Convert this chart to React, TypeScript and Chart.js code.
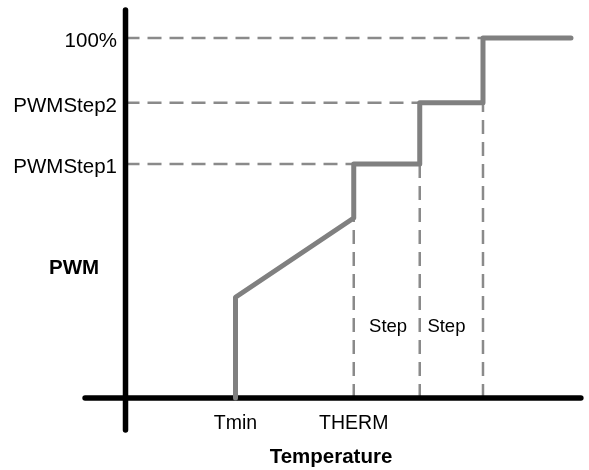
import { useEffect, useRef } from 'react';
import { Chart, registerables } from 'chart.js';
Chart.register(...registerables);

// Temperature (x) and PWM % (y) values
const temperatureLabels = ['Tmin', 'THERM'];
const temperatureValues = [40, 83];
const stepEdges = [83, 107, 130];
const stepEdgeLevels = [50, 65, 82];
const stepLabels = ['Step', 'Step'];
const stepLabelPositions = [95.5, 116.7];
const pwmLabels = ['100%', 'PWMStep2', 'PWMStep1'];
const pwmLevels = [100, 82, 65];
const pwmLevelEnds = [130, 107, 83];
const curveTemps = [40, 40, 83, 83, 107, 107, 130, 130, 162];
const curvePwm = [0, 28, 50, 65, 65, 82, 82, 100, 100];
const xAxisExtent = [-14.7, 165.6];
const yAxisExtent = [-8.9, 107.8];
const xTitle = 'Temperature';
const yTitle = 'PWM';
const yTitleLevel = 34.5;

const FONT = "'Liberation Sans', Arial, sans-serif";

export default function App() {
  const ref = useRef<HTMLCanvasElement>(null);
  useEffect(() => {
    if (!ref.current) return;
    const dashed = '#8a8a8a';
    const datasets: any[] = [];
    pwmLevels.forEach((lv, i) => {
      datasets.push({
        data: [{ x: 0, y: lv }, { x: pwmLevelEnds[i], y: lv }],
        borderColor: dashed, borderWidth: 2.5, borderDash: [14, 8], order: 3,
      });
    });
    stepEdges.forEach((t, i) => {
      datasets.push({
        data: [{ x: t, y: 0 }, { x: t, y: stepEdgeLevels[i] }],
        borderColor: dashed, borderWidth: 2.5, borderDash: [14, 8], order: 3,
      });
    });
    datasets.push({
      data: [{ x: xAxisExtent[0], y: 0 }, { x: xAxisExtent[1], y: 0 }],
      borderColor: '#000', borderWidth: 5.5, borderCapStyle: 'round', order: 2,
    });
    datasets.push({
      data: [{ x: 0, y: yAxisExtent[0] }, { x: 0, y: yAxisExtent[1] }],
      borderColor: '#000', borderWidth: 5.5, borderCapStyle: 'round', order: 2,
    });
    datasets.push({
      data: curveTemps.map((t, i) => ({ x: t, y: curvePwm[i] })),
      borderColor: '#808080', borderWidth: 5, borderCapStyle: 'round', borderJoinStyle: 'round', order: 1,
    });
    datasets.forEach((d) => { d.showLine = true; d.pointRadius = 0; d.tension = 0; d.fill = false; });

    const labelPlugin = {
      id: 'labels',
      afterDraw(chart: any) {
        const { ctx } = chart;
        const xs = chart.scales.x;
        const ys = chart.scales.y;
        const ax = xs.getPixelForValue(0);
        const ay = ys.getPixelForValue(0);
        ctx.save();
        ctx.fillStyle = '#000';
        ctx.textBaseline = 'alphabetic';
        ctx.font = `20.5px ${FONT}`;
        ctx.textAlign = 'right';
        pwmLabels.forEach((l, i) => {
          ctx.fillText(l, ax - 8.5, ys.getPixelForValue(pwmLevels[i]) + 9);
        });
        ctx.textAlign = 'center';
        ctx.font = `19.5px ${FONT}`;
        temperatureLabels.forEach((l, i) => {
          ctx.fillText(l, xs.getPixelForValue(temperatureValues[i]), ay + 30.5);
        });
        ctx.font = `18.5px ${FONT}`;
        stepLabels.forEach((l, i) => {
          ctx.fillText(l, xs.getPixelForValue(stepLabelPositions[i]), ys.getPixelForValue(18.2));
        });
        ctx.font = `bold 20.5px ${FONT}`;
        const mid = (xs.getPixelForValue(xAxisExtent[0]) + xs.getPixelForValue(xAxisExtent[1])) / 2;
        ctx.fillText(xTitle, mid - 2, ay + 65);
        ctx.fillText(yTitle, ax - 51.5, ys.getPixelForValue(yTitleLevel));
        ctx.restore();
      },
    };

    const chart = new Chart(ref.current, {
      type: 'scatter',
      data: { datasets },
      options: {
        animation: false,
        responsive: false,
        layout: { padding: 0 },
        plugins: { legend: { display: false }, tooltip: { enabled: false } },
        scales: {
          x: { type: 'linear', min: -45.64, max: 168.55, display: false },
          y: { type: 'linear', min: -20, max: 110.56, display: false },
        },
      },
      plugins: [labelPlugin],
    });
    return () => chart.destroy();
  }, []);
  return (
    <div style={{ position: 'fixed', left: 0, top: 0, width: 589, height: 470, background: '#fff' }}>
      <canvas ref={ref} width={589} height={470} />
    </div>
  );
}
